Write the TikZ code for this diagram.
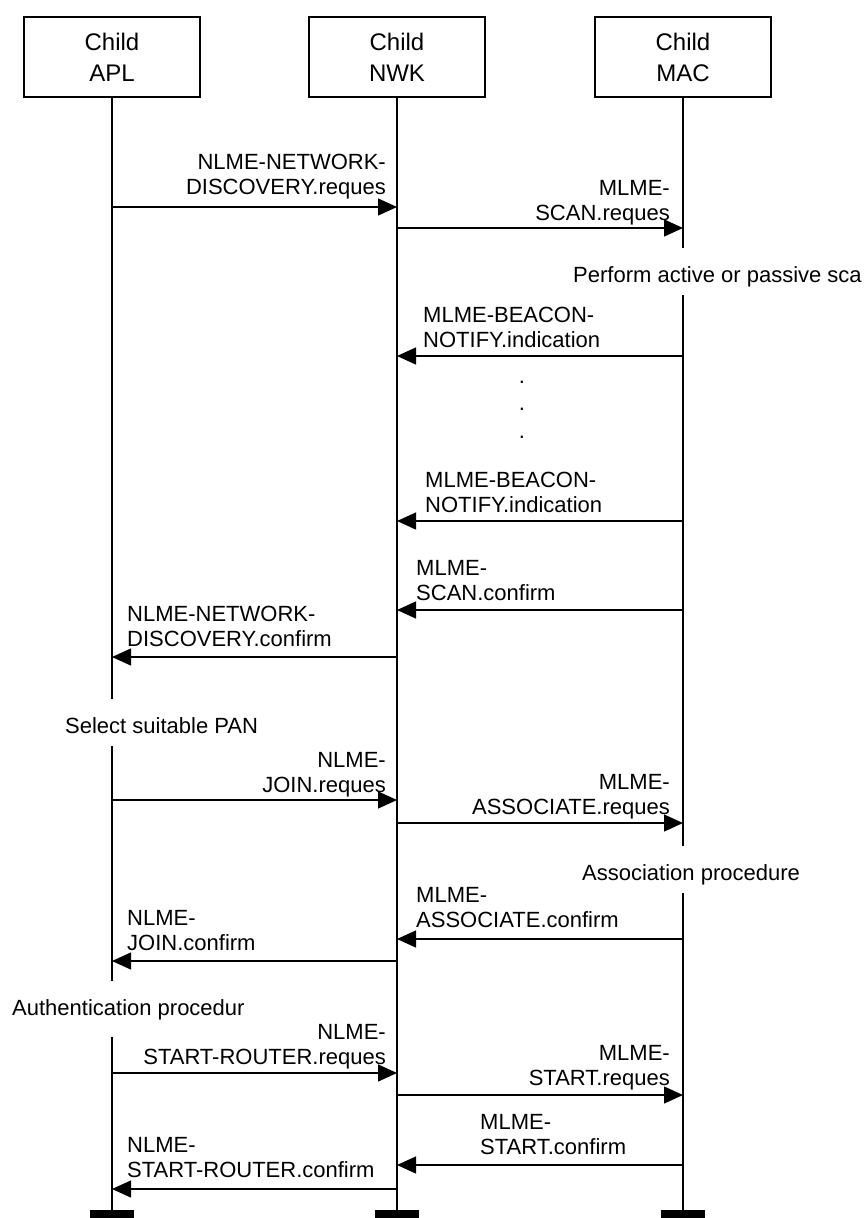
\documentclass[tikz,border=0pt]{standalone}
\usepackage{fontspec}
\setmainfont{Liberation Sans}
\usetikzlibrary{arrows.meta}

\begin{document}
\begin{tikzpicture}[x=1pt,y=-1pt,
    box/.style={draw,line width=1.2pt,minimum width=176pt,minimum height=80pt,align=center,font=\fontsize{24}{31}\selectfont},
    bar/.style={fill=black,minimum width=44pt,minimum height=10pt,inner sep=0pt,outer sep=0pt},
    msg/.style={line width=1.3pt,-{Triangle[length=19pt,width=17pt]}},
    lbl/.style={inner sep=0pt,text depth=0pt,font=\fontsize{22}{25}\selectfont},
    note/.style={fill=white,anchor=base west,inner xsep=0pt,inner ysep=2pt,text height=32pt,text depth=11pt,font=\fontsize{22}{25}\selectfont}]

    \useasboundingbox (0,0) rectangle (865,1218);

    % layers
    \node[box] (apl) at (112,57) {Child\\APL};
    \node[box] (nwk) at (397,57) {Child\\NWK};
    \node[box] (mac) at (683,57) {Child\\MAC};

    \node[bar] (aplend) at (112,1215) {};
    \node[bar] (nwkend) at (397,1215) {};
    \node[bar] (macend) at (683,1215) {};

    \draw[line width=1.3pt] (apl.south) -- (aplend.north);
    \draw[line width=1.3pt] (nwk.south) -- (nwkend.north);
    \draw[line width=1.3pt] (mac.south) -- (macend.north);

    % local procedures
    \node[note] (scan) at (573,282) {Perform active or passive sca};
    \node[note] (pan) at (65,733) {Select suitable PAN};
    \node[note] (assoc) at (582,880) {Association procedure};
    \node[note,text depth=20pt] (auth) at (12,1015) {Authentication procedur};

    % message rows
    \coordinate (r1) at (0,207);
    \coordinate (r2) at (0,228);
    \coordinate (r3) at (0,356);
    \coordinate (r4) at (0,521);
    \coordinate (r5) at (0,610);
    \coordinate (r6) at (0,657);
    \coordinate (r7) at (0,800);
    \coordinate (r8) at (0,823);
    \coordinate (r9) at (0,939);
    \coordinate (r10) at (0,961);
    \coordinate (r11) at (0,1073);
    \coordinate (r12) at (0,1095);
    \coordinate (r13) at (0,1165);
    \coordinate (r14) at (0,1189);

    % discovery
    \draw[msg] (apl |- r1) -- (nwk |- r1);
    \node[lbl,align=right,anchor=south east] (m1) at (386,194.5) {NLME-NETWORK-\\DISCOVERY.reques};
    \draw[msg] (nwk |- r2) -- (mac |- r2);
    \node[lbl,align=right,anchor=south east] (m2) at (670,220.5) {MLME-\\SCAN.reques};
    \draw[msg] (mac |- r3) -- (nwk |- r3);
    \node[lbl,align=left,anchor=south west] (m3) at (423,347.5) {MLME-BEACON-\\NOTIFY.indication};
    \foreach \y [count=\i] in {382,409,437}
        \node[lbl] (dot\i) at (522,\y) {.};
    \draw[msg] (mac |- r4) -- (nwk |- r4);
    \node[lbl,align=left,anchor=south west] (m4) at (425,512.5) {MLME-BEACON-\\NOTIFY.indication};
    \draw[msg] (mac |- r5) -- (nwk |- r5);
    \node[lbl,align=left,anchor=south west] (m5) at (416,600.5) {MLME-\\SCAN.confirm};
    \draw[msg] (nwk |- r6) -- (apl |- r6);
    \node[lbl,align=left,anchor=south west] (m6) at (127,646.5) {NLME-NETWORK-\\DISCOVERY.confirm};

    % join
    \draw[msg] (apl |- r7) -- (nwk |- r7);
    \node[lbl,align=right,anchor=south east] (m7) at (386,792.5) {NLME-\\JOIN.reques};
    \draw[msg] (nwk |- r8) -- (mac |- r8);
    \node[lbl,align=right,anchor=south east] (m8) at (670,814.5) {MLME-\\ASSOCIATE.reques};
    \draw[msg] (mac |- r9) -- (nwk |- r9);
    \node[lbl,align=left,anchor=south west] (m9) at (416,927.5) {MLME-\\ASSOCIATE.confirm};
    \draw[msg] (nwk |- r10) -- (apl |- r10);
    \node[lbl,align=left,anchor=south west] (m10) at (127,950.5) {NLME-\\JOIN.confirm};

    % start router
    \draw[msg] (apl |- r11) -- (nwk |- r11);
    \node[lbl,align=right,anchor=south east] (m11) at (386,1064.5) {NLME-\\START-ROUTER.reques};
    \draw[msg] (nwk |- r12) -- (mac |- r12);
    \node[lbl,align=right,anchor=south east] (m12) at (670,1085.5) {MLME-\\START.reques};
    \draw[msg] (mac |- r13) -- (nwk |- r13);
    \node[lbl,align=left,anchor=south west] (m13) at (480,1154.5) {MLME-\\START.confirm};
    \draw[msg] (nwk |- r14) -- (apl |- r14);
    \node[lbl,align=left,anchor=south west] (m14) at (127,1177.5) {NLME-\\START-ROUTER.confirm};
\end{tikzpicture}
\end{document}
